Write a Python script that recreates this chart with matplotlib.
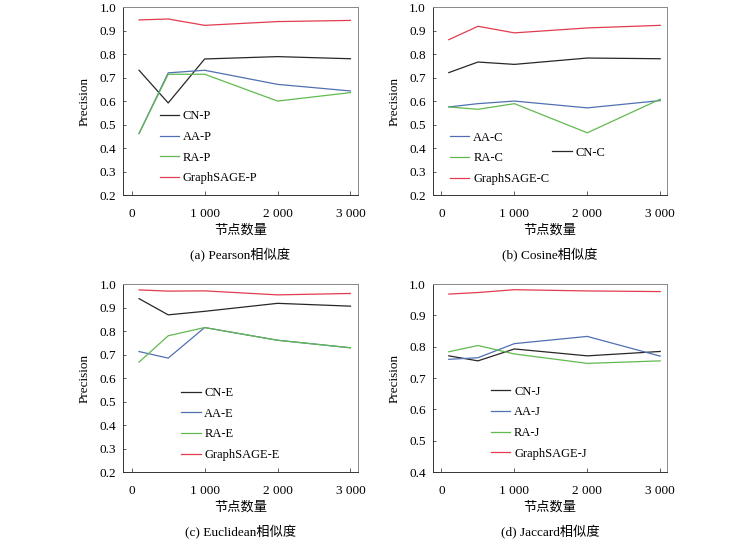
import matplotlib.pyplot as plt

plt.rcParams['font.family'] = ['Liberation Serif', 'Noto Sans CJK SC']

nodes = [100, 500, 1000, 2000, 3000]

# (a) Pearson
cn_p = [0.731, 0.592, 0.779, 0.789, 0.780]
aa_p = [0.462, 0.720, 0.731, 0.671, 0.643]
ra_p = [0.462, 0.714, 0.714, 0.600, 0.636]
gs_p = [0.945, 0.949, 0.922, 0.938, 0.943]

# (b) Cosine
cn_c = [0.721, 0.766, 0.756, 0.783, 0.780]
aa_c = [0.575, 0.589, 0.600, 0.571, 0.602]
ra_c = [0.575, 0.565, 0.589, 0.465, 0.608]
gs_c = [0.861, 0.918, 0.890, 0.911, 0.922]

# (c) Euclidean
cn_e = [0.938, 0.869, 0.884, 0.918, 0.906]
aa_e = [0.713, 0.685, 0.815, 0.761, 0.729]
ra_e = [0.668, 0.780, 0.815, 0.761, 0.729]
gs_e = [0.975, 0.970, 0.971, 0.954, 0.960]

# (d) Jaccard
cn_j = [0.771, 0.755, 0.793, 0.771, 0.785]
aa_j = [0.760, 0.765, 0.810, 0.833, 0.770]
ra_j = [0.784, 0.804, 0.777, 0.747, 0.755]
gs_j = [0.968, 0.973, 0.982, 0.978, 0.976]

xticks = [0, 1000, 2000, 3000]
xticklabels = ['0', '1 000', '2 000', '3 000']

c_cn = '#2a2627'
c_aa = '#5070b2'
c_ra = '#62b94f'
c_gs = '#e23c50'

fig = plt.figure(figsize=(7.5, 5.39), dpi=100)

pos = {
    'a': [0.164, 0.638, 0.313, 0.349],
    'b': [0.577, 0.638, 0.313, 0.349],
    'c': [0.164, 0.124, 0.313, 0.349],
    'd': [0.577, 0.124, 0.313, 0.349],
}
AX_H = 188.0  # axes height in pixels

leg_kw = dict(frameon=False, fontsize=9, handlelength=1.55,
              handletextpad=0.3, labelspacing=0.7)


def setup(ax, ylo, caption):
    ax.set_xlim(-120, 3100)
    ax.set_ylim(ylo, 1.0)
    ax.set_xticks(xticks)
    ax.set_xticklabels(xticklabels)
    yt = [v / 10 for v in range(int(round(ylo * 10)), 11)]
    ax.set_yticks(yt)
    ax.set_yticklabels(['%.1f' % v for v in yt])
    ax.tick_params(labelsize=9.5, width=0.6, color='#444444', direction='in')
    ax.tick_params(axis='x', length=3, pad=9)
    ax.tick_params(axis='y', length=2.5, pad=5)
    for s in ax.spines.values():
        s.set_color('#888888')
        s.set_linewidth(0.7)
    ax.spines['left'].set_color('#333333')
    ax.spines['bottom'].set_color('#333333')
    ax.set_ylabel('Precision', fontsize=9.5)
    ax.yaxis.set_label_coords(-0.137, 0.5)
    ax.set_xlabel('节点数量', fontsize=9.5, va='center')
    ax.xaxis.set_label_coords(0.5, -35 / AX_H)
    ax.text(0.5, -60 / AX_H, caption, transform=ax.transAxes, ha='center',
            va='center', fontsize=9.5)


lw = 0.9

# (a)
ax = fig.add_axes(pos['a'])
ax.plot(nodes, cn_p, color=c_cn, lw=lw, label='CN-P')
ax.plot(nodes, aa_p, color=c_aa, lw=lw, label='AA-P')
ax.plot(nodes, ra_p, color=c_ra, lw=lw, label='RA-P')
ax.plot(nodes, gs_p, color=c_gs, lw=lw, label='GraphSAGE-P')
setup(ax, 0.2, '(a) Pearson相似度')
ax.legend(loc='upper left', bbox_to_anchor=(0.108, 0.511), **leg_kw)

# (b)
ax = fig.add_axes(pos['b'])
l_cn, = ax.plot(nodes, cn_c, color=c_cn, lw=lw, label='CN-C')
l_aa, = ax.plot(nodes, aa_c, color=c_aa, lw=lw, label='AA-C')
l_ra, = ax.plot(nodes, ra_c, color=c_ra, lw=lw, label='RA-C')
l_gs, = ax.plot(nodes, gs_c, color=c_gs, lw=lw, label='GraphSAGE-C')
setup(ax, 0.2, '(b) Cosine相似度')
leg1 = ax.legend(handles=[l_aa, l_ra, l_gs], loc='upper left',
                 bbox_to_anchor=(0.026, 0.397), **leg_kw)
ax.add_artist(leg1)
ax.legend(handles=[l_cn], loc='upper left', bbox_to_anchor=(0.462, 0.318),
          **leg_kw)

# (c)
ax = fig.add_axes(pos['c'])
ax.plot(nodes, cn_e, color=c_cn, lw=lw, label='CN-E')
ax.plot(nodes, aa_e, color=c_aa, lw=lw, label='AA-E')
ax.plot(nodes, ra_e, color=c_ra, lw=lw, label='RA-E')
ax.plot(nodes, gs_e, color=c_gs, lw=lw, label='GraphSAGE-E')
setup(ax, 0.2, '(c) Euclidean相似度')
ax.legend(loc='upper left', bbox_to_anchor=(0.2, 0.513), **leg_kw)

# (d)
ax = fig.add_axes(pos['d'])
ax.plot(nodes, cn_j, color=c_cn, lw=lw, label='CN-J')
ax.plot(nodes, aa_j, color=c_aa, lw=lw, label='AA-J')
ax.plot(nodes, ra_j, color=c_ra, lw=lw, label='RA-J')
ax.plot(nodes, gs_j, color=c_gs, lw=lw, label='GraphSAGE-J')
setup(ax, 0.4, '(d) Jaccard相似度')
ax.legend(loc='upper left', bbox_to_anchor=(0.2, 0.52), **leg_kw)

fig.savefig('out.png', dpi=100)
